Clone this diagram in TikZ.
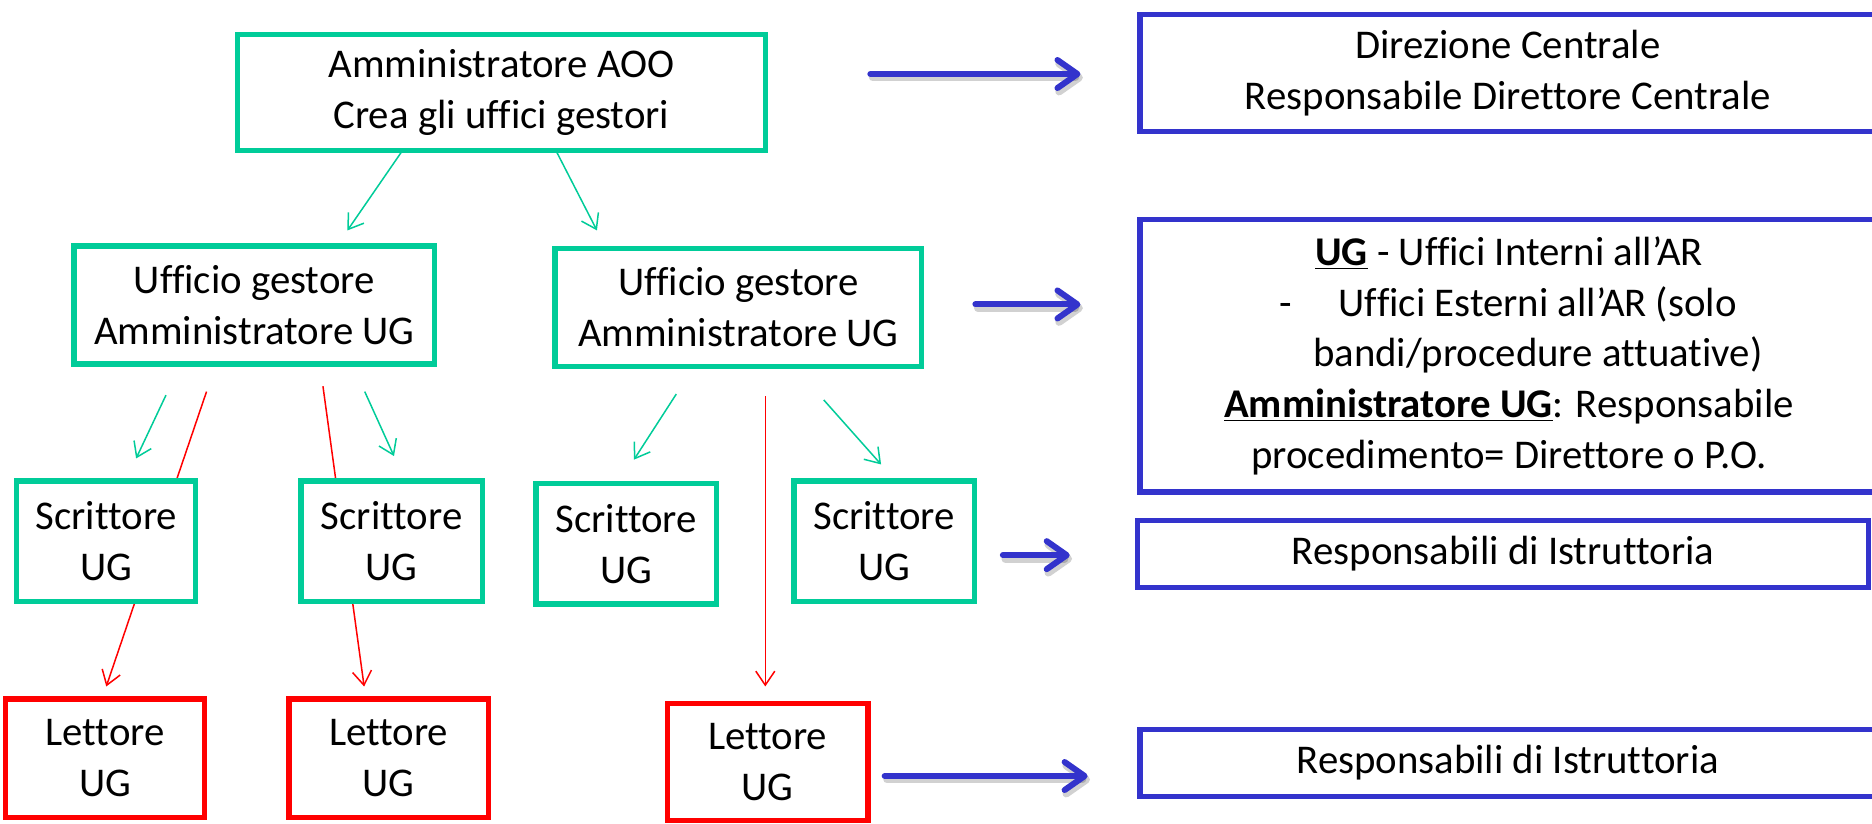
\documentclass[tikz,border=0pt]{standalone}
\usepackage{fontspec}
\setmainfont{Carlito}[Ligatures=NoCommon]
\usetikzlibrary{arrows.meta,backgrounds}
\newcommand\pu{0.59694pt}
\definecolor{ggreen}{RGB}{0,204,153}
\definecolor{bblue}{RGB}{51,51,204}
\definecolor{rred}{RGB}{255,0,0}
\begin{document}
\begin{tikzpicture}[x=0.59694pt,y=-0.59694pt,
  box/.style={draw, line width=2.7pt, fill=white, inner sep=0pt, align=center,
    font=\fontsize{20.4}{25.4}\selectfont},
  gbox/.style={box, draw=ggreen},
  rbox/.style={box, draw=rred},
  bbox/.style={box, draw=bblue},
  thinarrow/.style={line width=0.75pt, -{Straight Barb[length=7pt,width=9.5pt]}},
  garrow/.style={thinarrow, draw=ggreen},
  rarrow/.style={thinarrow, draw=rred},
  barrow/.style={draw=bblue, line width=3pt, line cap=round,
    -{Straight Barb[length=10pt,width=14pt,line cap=round,line join=round]}},
  bshadow/.style={draw=black, opacity=0.18, line width=3.8pt, line cap=round,
    -{Straight Barb[length=10pt,width=14pt,line cap=round,line join=round]},
    transform canvas={shift={(1.2pt,-1.8pt)}}},
]
\useasboundingbox (0,0) rectangle (1568,690);
\clip (0,0) rectangle (1568,690);

% nodes
\node[gbox, minimum width=442*\pu, minimum height=97*\pu] (aoo) at (420,77.5)
  {Amministratore AOO\\Crea gli uffici gestori};
\node[bbox, minimum width=616*\pu, minimum height=98*\pu] (dir) at (1263,61)
  {Direzione Centrale\\Responsabile Direttore Centrale};
\node[gbox, minimum width=302*\pu, minimum height=99*\pu] (uf1) at (213,255.5)
  {Ufficio gestore\\Amministratore UG};
\node[gbox, minimum width=307*\pu, minimum height=99*\pu] (uf2) at (618.5,257.5)
  {Ufficio gestore\\Amministratore UG};
\node[bbox, minimum width=618*\pu, minimum height=228*\pu] (ug) at (1264,298)
  {\underline{\textbf{UG}} - Uffici Interni all’AR\\
   \hspace*{28.7pt}\llap{-\hspace{23.6pt}}Uffici Esterni all’AR (solo\\
   \hspace*{28.7pt}bandi/procedure attuative)\\
   \underline{\textbf{Amministratore UG}}: Responsabile\\
   procedimento= Direttore o P.O.};
\node[gbox, minimum width=150*\pu, minimum height=101*\pu] (s1) at (89,453.5) {Scrittore\\UG};
\node[gbox, minimum width=152*\pu, minimum height=101*\pu] (s2) at (328,453.5) {Scrittore\\UG};
\node[gbox, minimum width=151*\pu, minimum height=101*\pu] (s3) at (524.5,455.5) {Scrittore\\UG};
\node[gbox, minimum width=151*\pu, minimum height=101*\pu] (s4) at (740.5,453.5) {Scrittore\\UG};
\node[bbox, minimum width=612*\pu, minimum height=56*\pu] (resp1) at (1259,464)
  {Responsabili di Istruttoria};
\node[rbox, minimum width=167*\pu, minimum height=99*\pu] (l1) at (88,635) {Lettore\\UG};
\node[rbox, minimum width=167*\pu, minimum height=99*\pu] (l2) at (325.5,635) {Lettore\\UG};
\node[rbox, minimum width=168*\pu, minimum height=98*\pu] (l3) at (643,638) {Lettore\\UG};
\node[bbox, minimum width=616*\pu, minimum height=56*\pu] (resp2) at (1263,639)
  {Responsabili di Istruttoria};

% free connector ends
\coordinate (g5s) at (342,119);   \coordinate (g5e) at (291,193);
\coordinate (g6s) at (462,119);   \coordinate (g6e) at (500,193);
\coordinate (g1s) at (139,331);   \coordinate (g1e) at (114,384);
\coordinate (g2s) at (305.5,328); \coordinate (g2e) at (330,382);
\coordinate (g3s) at (566.5,330); \coordinate (g3e) at (531,385);
\coordinate (g4s) at (690,335);   \coordinate (g4e) at (738,389);
\coordinate (r1s) at (173,328);   \coordinate (r1e) at (89,575);
\coordinate (r2s) at (270.5,323.5); \coordinate (r2e) at (305,575);
\coordinate (r3s) at (641,332);   \coordinate (r3e) at (641,575);
\coordinate (b1s) at (729,62);    \coordinate (b1e) at (905,62);
\coordinate (b2s) at (817,255);   \coordinate (b2e) at (905,255);
\coordinate (b3s) at (840,465);   \coordinate (b3e) at (896,465);
\coordinate (b4s) at (741,650);   \coordinate (b4e) at (911,650);

\begin{scope}[on background layer]
  \fill[white] (0,0) rectangle (1568,690);
  \draw[garrow] (g5s) -- (g5e);
  \draw[garrow] (g6s) -- (g6e);
  \draw[garrow] (g1s) -- (g1e);
  \draw[garrow] (g2s) -- (g2e);
  \draw[garrow] (g3s) -- (g3e);
  \draw[garrow] (g4s) -- (g4e);
  \draw[rarrow] (r1s) -- (r1e);
  \draw[rarrow] (r2s) -- (r2e);
  \draw[rarrow] (r3s) -- (r3e);
  \foreach \a in {b1,b2,b3,b4} {
    \draw[bshadow] (\a s) -- (\a e);
    \draw[barrow] (\a s) -- (\a e);
  }
\end{scope}
\end{tikzpicture}
\end{document}
